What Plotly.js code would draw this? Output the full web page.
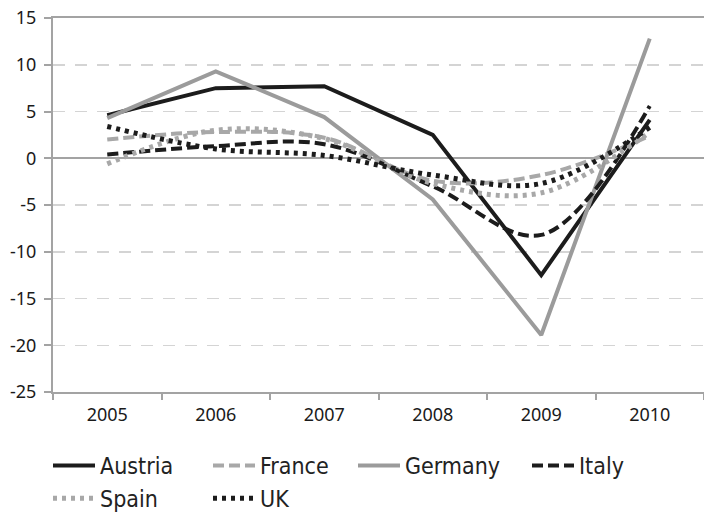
<!DOCTYPE html>
<html>
<head>
<meta charset="utf-8">
<script src="https://cdn.plot.ly/plotly-3.0.1.min.js"></script>
<style>html,body{margin:0;padding:0;background:#fff;}#chart{width:704px;height:514px;}</style>
</head>
<body>
<div id="chart"></div>
<script>
var years = ["2005", "2006", "2007", "2008", "2009", "2010"];
var austria = [4.6, 7.5, 7.7, 2.5, -12.5, 4.1];
var france  = [2.0, 2.8, 2.2, -2.4, -1.8, 2.4];
var germany = [4.3, 9.3, 4.4, -4.4, -18.9, 12.8];
var italy   = [0.4, 1.3, 1.5, -3.0, -8.2, 5.6];
var spain   = [-0.6, 3.0, 2.1, -2.7, -3.7, 2.8];
var uk      = [3.4, 1.0, 0.3, -1.8, -2.7, 3.3];
var yTicks = [-25, -20, -15, -10, -5, 0, 5, 10, 15];

var FONT = "DejaVu Sans Condensed, Liberation Sans Narrow, sans-serif";
var TFONT = "Noto Sans, DejaVu Sans Condensed, sans-serif";
var BLACK = "#1c1c1c", GRAY = "#9b9b9b", LGRAY = "#a8a8a8";

function tr(name, y, color, width, dash, smooth, legend) {
  var t = {
    type: "scatter", mode: "lines", name: name, x: years, y: y,
    line: {color: color, width: width, dash: dash, shape: smooth ? "spline" : "linear"},
    legend: legend
  };
  if (smooth) t.line.smoothing = 1;
  return t;
}

var data = [
  tr("Austria", austria, BLACK, 4, "solid", false, "legend"),
  tr("France", france, LGRAY, 4, "11px,5px", true, "legend2"),
  tr("Germany", germany, GRAY, 4, "solid", false, "legend3"),
  tr("Italy", italy, BLACK, 4, "11px,5px", true, "legend4"),
  tr("Spain", spain, LGRAY, 5, "4px,5px", true, "legend"),
  tr("UK", uk, BLACK, 5, "4px,5px", true, "legend2")
];

function leg(xpx) {
  return {
    xref: "container", yref: "container", x: xpx / 704, y: 1 - 444 / 514,
    xanchor: "left", yanchor: "top", orientation: "v",
    font: {family: FONT, size: 23, color: "#222"},
    itemwidth: 42, tracegroupgap: 0, bgcolor: "rgba(0,0,0,0)"
  };
}

var layout = {
  width: 704, height: 514,
  margin: {l: 53, r: 0, t: 18, b: 122, autoexpand: false},
  paper_bgcolor: "#fff", plot_bgcolor: "#fff",
  font: {family: FONT, size: 18, color: "#222"},
  showlegend: true,
  xaxis: {
    type: "category", range: [-0.5, 5.5], automargin: false, tickangle: 0,
    showline: true, linecolor: "#a3a3a3", linewidth: 2, mirror: true,
    ticks: "outside", tickson: "boundaries", ticklen: 6, tickwidth: 2, tickcolor: "#a3a3a3",
    ticklabelstandoff: 5,
    showgrid: false, zeroline: false,
    tickfont: {family: TFONT, size: 18, color: "#1a1a1a"}
  },
  yaxis: {
    range: [-25, 15], tickvals: yTicks, ticktext: yTicks.map(String), automargin: false,
    showline: true, linecolor: "#a3a3a3", linewidth: 2,
    ticks: "outside", ticklen: 7, tickwidth: 2, tickcolor: "#a3a3a3",
    ticklabelstandoff: 4,
    showgrid: true, gridcolor: "#d4d4d4", gridwidth: 1.5, griddash: "12px,10px",
    zeroline: true, zerolinecolor: "#a3a3a3", zerolinewidth: 2,
    tickfont: {family: TFONT, size: 18, color: "#1a1a1a"}
  },
  legend: leg(48),
  legend2: leg(208),
  legend3: leg(353),
  legend4: leg(527)
};

Plotly.newPlot("chart", data, layout, {displayModeBar: false, staticPlot: true});
</script>
</body>
</html>
